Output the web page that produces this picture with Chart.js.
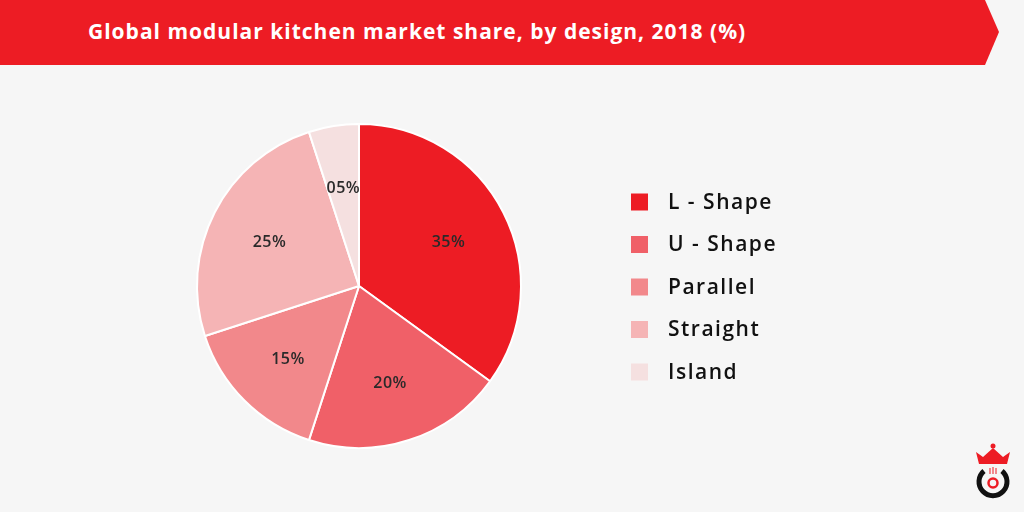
<!DOCTYPE html>
<html>
<head>
<meta charset="utf-8">
<script src="https://cdn.jsdelivr.net/npm/chart.js@4"></script>
<style>
    html, body { margin: 0; padding: 0; background: #f6f6f6; }
    #wrap { position: relative; width: 1024px; height: 512px; overflow: hidden; }
    #banner {
        position: absolute; left: 0; top: 0; width: 999px; height: 65px;
        background: #ed1c24;
        clip-path: polygon(0 0, 985px 0, 999px 32px, 985px 65px, 0 65px);
    }
    #banner h1 {
        margin: 0; position: absolute; left: 88px; top: 17px;
        font-family: "Open Sans", sans-serif; font-weight: 700; font-size: 21px;
        letter-spacing: 1px;
        color: #ffffff; white-space: nowrap; line-height: 28px;
    }
    #chart { position: absolute; left: 0; top: 0; }
    #logo { position: absolute; left: 970px; top: 438px; }
</style>
</head>
<body>
<div id="wrap">
    <canvas id="chart" width="1024" height="512"></canvas>
    <div id="banner"><h1>Global modular kitchen market share, by design, 2018 (%)</h1></div>
    <svg id="logo" width="44" height="68" viewBox="0 0 44 68">
        <circle cx="23" cy="8" r="2.5" fill="#ed1c24"/>
        <polygon points="6,14 13,19 23,10 33,19 40,14 37,26 9,26" fill="#ed1c24"/>
        <path d="M 14 33 A 14 14 0 1 0 32 33" fill="none" stroke="#111" stroke-width="5"/>
        <circle cx="23" cy="45" r="4.5" fill="none" stroke="#ed1c24" stroke-width="2.5"/>
        <path d="M20 30 v6 M23 29 v7 M26 30 v6" stroke="#ed1c24" stroke-width="1"/>
    </svg>
</div>
<script>
// ===============================
// DATA
// ===============================
const designs = ["L - Shape", "U - Shape", "Parallel", "Straight", "Island"];
const shares = [35, 20, 15, 25, 5];
const sliceColors = ["#ed1c24", "#f06068", "#f2888b", "#f5b4b5", "#f5e0e0"];

// pie geometry on the page
const PIE_CX = 359, PIE_CY = 286, PIE_R = 163;

// slice labels (05% style)
const sliceLabels = {
    id: "sliceLabels",
    afterDatasetsDraw(chart) {
        const ctx = chart.ctx;
        const meta = chart.getDatasetMeta(0);
        ctx.save();
        ctx.font = "600 16px 'Open Sans', sans-serif";
        ctx.letterSpacing = "0.5px";
        ctx.fillStyle = "#2a2a2a";
        ctx.textAlign = "center";
        ctx.textBaseline = "middle";
        meta.data.forEach((arc, i) => {
            const p = arc.getProps(["x", "y", "startAngle", "endAngle", "outerRadius"], true);
            const mid = (p.startAngle + p.endAngle) / 2;
            const r = p.outerRadius * 0.62;
            const v = chart.data.datasets[0].data[i];
            ctx.fillText(String(v).padStart(2, "0") + "%", p.x + Math.cos(mid) * r, p.y + Math.sin(mid) * r + 2);
        });
        ctx.restore();
    }
};

// legend drawn at the right side
const sideLegend = {
    id: "sideLegend",
    afterDraw(chart) {
        const ctx = chart.ctx;
        const colors = chart.data.datasets[0].backgroundColor;
        ctx.save();
        ctx.font = "600 21px 'Open Sans', sans-serif";
        ctx.letterSpacing = "1.5px";
        ctx.textBaseline = "middle";
        chart.data.labels.forEach((label, i) => {
            const y = 202 + i * 42.5;
            ctx.fillStyle = colors[i];
            ctx.fillRect(631, y - 8.5, 17, 17);
            ctx.fillStyle = "#111111";
            ctx.fillText(label, 668, y + 1);
        });
        ctx.restore();
    }
};

new Chart(document.getElementById("chart"), {
    type: "pie",
    data: {
        labels: designs,
        datasets: [{
            data: shares,
            backgroundColor: sliceColors,
            borderColor: "#ffffff",
            borderWidth: 2
        }]
    },
    options: {
        responsive: false,
        animation: false,
        layout: {
            padding: {
                left: PIE_CX - PIE_R,
                right: 1024 - PIE_CX - PIE_R,
                top: PIE_CY - PIE_R,
                bottom: 512 - PIE_CY - PIE_R
            }
        },
        plugins: {
            legend: { display: false },
            tooltip: { enabled: false },
            title: { display: false }
        }
    },
    plugins: [sliceLabels, sideLegend]
});
</script>
</body>
</html>
